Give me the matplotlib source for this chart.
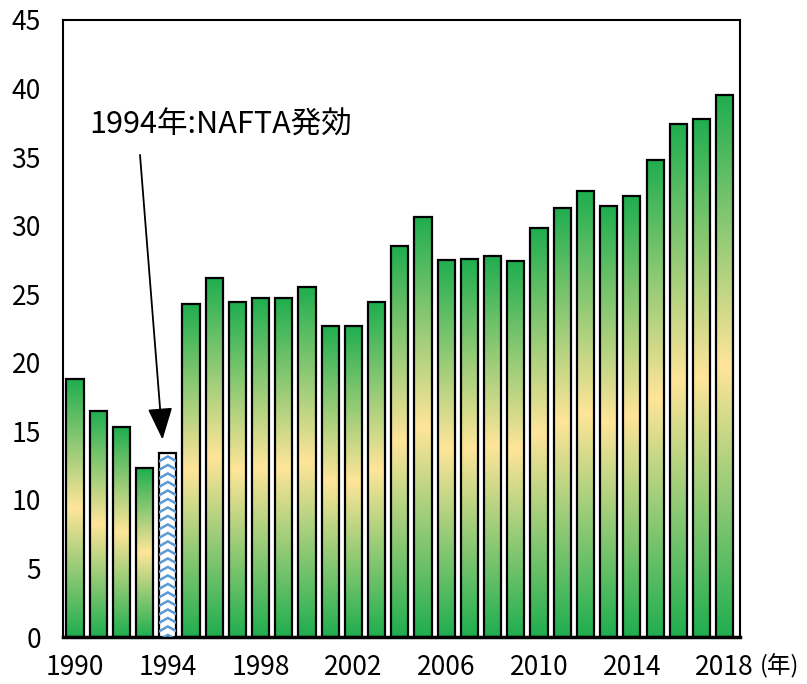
import numpy as np
import matplotlib
matplotlib.use('Agg')
import matplotlib.pyplot as plt
from matplotlib.colors import LinearSegmentedColormap

plt.rcParams['font.family'] = ['Noto Sans CJK JP', 'DejaVu Sans']

years = list(range(1990, 2019))
values = [18.8, 16.5, 15.3, 12.3, 13.4, 24.3, 26.2, 24.4, 24.7, 24.7,
          25.5, 22.7, 22.7, 24.4, 28.5, 30.6, 27.5, 27.6, 27.8, 27.4,
          29.8, 31.3, 32.5, 31.4, 32.2, 34.8, 37.4, 37.8, 39.5]
highlight_year = 1994
tick_years = [1990, 1994, 1998, 2002, 2006, 2010, 2014, 2018]
annot_text = '1994年:NAFTA発効'

green = '#1fae4f'
yellow = '#ffe599'
cmap = LinearSegmentedColormap.from_list('gy', [green, yellow, green])

fig = plt.figure(figsize=(8.07, 6.84), dpi=100)
ax = fig.add_axes([63 / 807, 1 - 637 / 684, 677 / 807, 617 / 684])

x = np.arange(len(years))
width = 0.74
bars = ax.bar(x, values, width=width, facecolor='none', edgecolor='black',
              linewidth=1.6, zorder=3)

grad = np.linspace(0, 1, 256).reshape(-1, 1)
for i, (b, yr) in enumerate(zip(bars, years)):
    x0 = b.get_x()
    x1 = x0 + b.get_width()
    h = b.get_height()
    if yr == highlight_year:
        # white bar with blue chevron pattern
        b.set_facecolor('white')
        xc = (x0 + x1) / 2
        step = 0.62
        for y0 in np.arange(-0.2, h, step):
            ln, = ax.plot([x0, xc, x1], [y0, y0 + 0.35, y0], color='#5b9bd5',
                          lw=1.8, zorder=3.5, solid_joinstyle='miter')
            ln.set_clip_path(b)
        b.set_zorder(3.2)
        continue
    im = ax.imshow(grad, cmap=cmap, extent=[x0, x1, 0, h], aspect='auto',
                   origin='lower', zorder=2, interpolation='bilinear')
    im.set_clip_path(b)

ax.set_xlim(-0.52, 28.66)
ax.set_ylim(0, 45)
ax.set_yticks(np.arange(0, 46, 5))
ax.set_xticks([years.index(t) for t in tick_years])
ax.set_xticklabels([str(t) for t in tick_years])
ax.tick_params(axis='both', length=0, labelsize=19)
ax.tick_params(axis='y', pad=16)
ax.tick_params(axis='x', pad=12)
for s in ax.spines.values():
    s.set_linewidth(1.5)
ax.spines['bottom'].set_linewidth(2.5)

# unit label placed just right of the last tick label
ax.annotate('(年)', xy=(1, 0), xycoords='axes fraction', xytext=(14, -12),
            textcoords='offset points', ha='left', va='top', fontsize=17,
            annotation_clip=False)

hi = years.index(highlight_year)
ax.annotate(annot_text, xy=(hi - 0.23, values[hi] + 1.0), xytext=(0.6, 37.3),
            fontsize=22, va='center', ha='left',
            arrowprops=dict(arrowstyle='-|>,head_length=0.9,head_width=0.35',
                            color='black', lw=1.3, shrinkA=8, shrinkB=0,
                            relpos=(0.19, 0.0)))

fig.savefig('out.png', dpi=100)
